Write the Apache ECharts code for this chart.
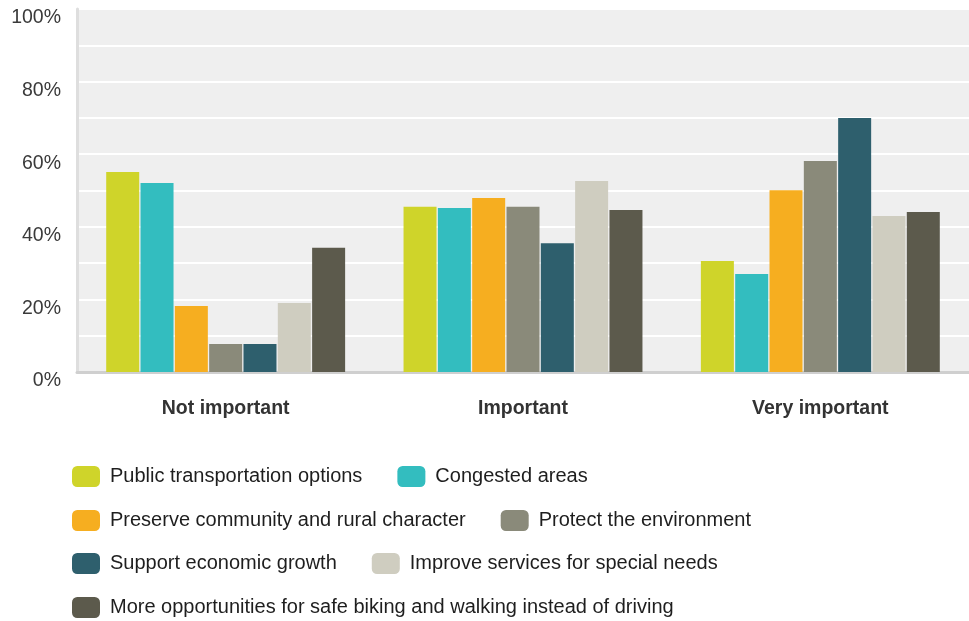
<!DOCTYPE html>
<html>
<head>
<meta charset="utf-8">
<script src="https://cdn.jsdelivr.net/npm/echarts@6/dist/echarts.min.js"></script>
<style>
html,body{margin:0;padding:0;background:#fff;}
#c{width:969px;height:621px;}
</style>
</head>
<body>
<div id="c"></div>
<script>
var categories = ['Not important', 'Important', 'Very important'];
var seriesNames = [
  'Public transportation options',
  'Congested areas',
  'Preserve community and rural character',
  'Protect the environment',
  'Support economic growth',
  'Improve services for special needs',
  'More opportunities for safe biking and walking instead of driving'
];
var publicTransport = [55.1, 45.5, 30.6];
var congested = [52.1, 45.2, 27.0];
var preserve = [18.2, 47.9, 50.1];
var protectEnv = [7.7, 45.5, 58.1];
var supportEcon = [7.7, 35.5, 70.0];
var improveServices = [19.0, 52.6, 43.0];
var moreOpportunities = [34.2, 44.6, 44.1];
var yTicks = [0, 20, 40, 60, 80, 100];
var colors = ['#cfd42a', '#33bdbf', '#f6ae20', '#8a8a7a', '#2e5f6d', '#cfcdc0', '#5c5a4c'];

var allData = [publicTransport, congested, preserve, protectEnv, supportEcon, improveServices, moreOpportunities];

var legendRows = [
  [seriesNames[0], seriesNames[1]],
  [seriesNames[2], seriesNames[3]],
  [seriesNames[4], seriesNames[5]],
  [seriesNames[6]]
];
var legendTops = [466, 510, 553, 597];

var chart = echarts.init(document.getElementById('c'), null, {renderer: 'canvas'});
var option = {
  animation: false,
  color: colors,
  grid: {
    left: 77, right: -11, top: 9, bottom: 249,
    show: true, backgroundColor: '#efefef', borderWidth: 0
  },
  legend: legendRows.map(function (row, i) {
    return {
      data: row,
      left: 72,
      top: legendTops[i],
      padding: 0,
      orient: 'horizontal',
      itemWidth: 28,
      itemHeight: 21,
      itemGap: 35,
      icon: 'roundRect',
      selectedMode: false,
      textStyle: {
        fontFamily: 'Liberation Sans, Arial, sans-serif',
        fontSize: 20,
        color: '#1e1e1e',
        padding: [0, 0, 0, 5]
      }
    };
  }),
  xAxis: {
    type: 'category',
    data: categories,
    axisLine: {show: true, lineStyle: {color: '#cfcfcf', width: 3}},
    axisTick: {show: false},
    axisLabel: {
      margin: 27,
      fontFamily: 'Liberation Sans, Arial, sans-serif',
      fontWeight: 'bold',
      fontSize: 19.5,
      color: '#333'
    }
  },
  yAxis: {
    type: 'value',
    min: 0, max: 100, interval: 10,
    axisLine: {show: true, lineStyle: {color: '#dedede', width: 3}},
    axisTick: {show: false},
    splitLine: {show: true, lineStyle: {color: '#ffffff', width: 2}},
    axisLabel: {
      margin: 16,
      fontFamily: 'Liberation Sans, Arial, sans-serif',
      fontSize: 19.5,
      color: '#3a3a3a',
      verticalAlign: 'top',
      lineHeight: 18,
      formatter: function (v) {
        return yTicks.indexOf(v) >= 0 ? v + '%' : '';
      }
    }
  },
  series: seriesNames.map(function (name, i) {
    return {
      name: name,
      type: 'bar',
      data: allData[i],
      barWidth: 33,
      barGap: '4%',
      itemStyle: {color: colors[i]}
    };
  })
};
chart.setOption(option);
</script>
</body>
</html>
